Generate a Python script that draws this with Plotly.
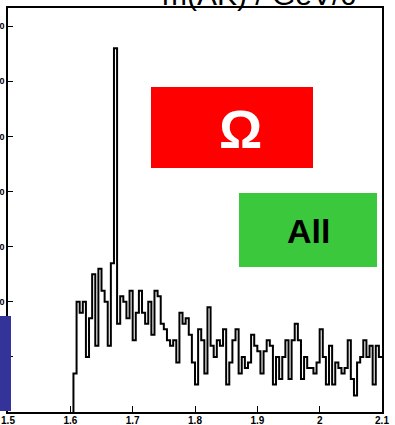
import plotly.graph_objects as go

# Invariant-mass histogram: 0.005 GeV bins, first bin starts at 1.605
bin_start = 1.605
bin_width = 0.005
counts = [
    7, 20, 18, 20, 10, 17, 25, 12, 26, 22,
    20, 12, 27, 66, 16, 21, 20, 17, 22, 13,
    18, 22, 18, 16, 20, 14, 22, 21, 16, 15,
    13, 12, 13, 9, 18, 16, 17, 14, 9, 5,
    15, 13, 7, 19, 12, 10, 13, 12, 15, 5,
    9, 13, 15, 7, 10, 8, 9, 14, 12, 11,
    7, 11, 13, 12, 5, 10, 6, 10, 13, 6,
    13, 16, 13, 6, 10, 8, 8, 7, 9, 15,
    10, 5, 12, 5, 9, 8, 7, 8, 13, 6,
    3, 9, 10, 13, 10, 12, 5, 12, 10,
]
x_ticks = [1.5, 1.6, 1.7, 1.8, 1.9, 2.0, 2.1]
x_tick_text = ["1.5", "1.6", "1.7", "1.8", "1.9", "2", "2.1"]
y_ticks = [10, 20, 30, 40, 50, 60, 70]
y_tick_text = ["10", "20", "30", "40", "50", "60", "70"]
axis_title = "m(ΛK) / GeV/c²"
box_labels = ["Ω", "All"]

# step outline: left edges, then the closing right edge
edges = [round(bin_start + i * bin_width, 4) for i in range(len(counts) + 1)]
xs = [edges[0]] + edges
ys = [0] + counts + [counts[-1]]

W, H = 395, 425
ml, mr, mt, mb = 8, 13, 8, 13
pw, ph = W - ml - mr, H - mt - mb


def px(x):
    return (x - ml) / pw


def py(y):
    return (H - mb - y) / ph


fig = go.Figure()
fig.add_trace(go.Scatter(
    x=xs, y=ys, mode="lines", line=dict(color="black", width=2, shape="hv"),
    hoverinfo="skip", showlegend=False,
))

font_fam = "Liberation Sans, Arial, sans-serif"
fig.update_layout(
    width=W, height=H,
    margin=dict(l=ml, r=mr, t=mt, b=mb, pad=0, autoexpand=False),
    paper_bgcolor="white", plot_bgcolor="white",
    xaxis=dict(
        range=[1.5, 2.1], tickvals=x_ticks, ticktext=x_tick_text,
        ticks="inside", ticklen=6, tickwidth=1.2, tickcolor="black",
        showline=True, linecolor="black", linewidth=1.5, mirror=True,
        showgrid=False, zeroline=False, automargin=False,
        ticklabelstandoff=-2,
        tickfont=dict(family=font_fam, size=10, color="black", weight="bold"),
    ),
    yaxis=dict(
        range=[0, 73.3], tickvals=y_ticks, ticktext=y_tick_text,
        ticks="inside", ticklen=5, tickwidth=1.2, tickcolor="black",
        showline=True, linecolor="black", linewidth=1.5, mirror=True,
        showgrid=False, zeroline=False, automargin=False,
        tickfont=dict(family=font_fam, size=9, color="black", weight="bold"),
    ),
    shapes=[
        dict(type="rect", xref="paper", yref="paper", layer="above",
             x0=px(151), x1=px(313), y0=py(168), y1=py(87),
             fillcolor="#FF0000", line=dict(width=0)),
        dict(type="rect", xref="paper", yref="paper", layer="above",
             x0=px(239), x1=px(377), y0=py(267), y1=py(193),
             fillcolor="#3CC83C", line=dict(width=0)),
        dict(type="rect", xref="paper", yref="paper", layer="above",
             x0=px(0), x1=px(11), y0=py(411), y1=py(316),
             fillcolor="#333399", line=dict(width=0)),
    ],
    annotations=[
        dict(text=box_labels[0], xref="paper", yref="paper",
             x=px(240), y=py(129), xanchor="center", yanchor="middle",
             showarrow=False,
             font=dict(family=font_fam, size=54, color="white", weight="bold")),
        dict(text=box_labels[1], xref="paper", yref="paper",
             x=px(308), y=py(231), xanchor="center", yanchor="middle",
             showarrow=False,
             font=dict(family=font_fam, size=34, color="black", weight="bold")),
        dict(text=axis_title, xref="paper", yref="paper",
             x=px(263), y=py(13), xanchor="center", yanchor="bottom",
             showarrow=False,
             font=dict(family=font_fam, size=30, color="black")),
    ],
)

fig.write_html("out.html")
